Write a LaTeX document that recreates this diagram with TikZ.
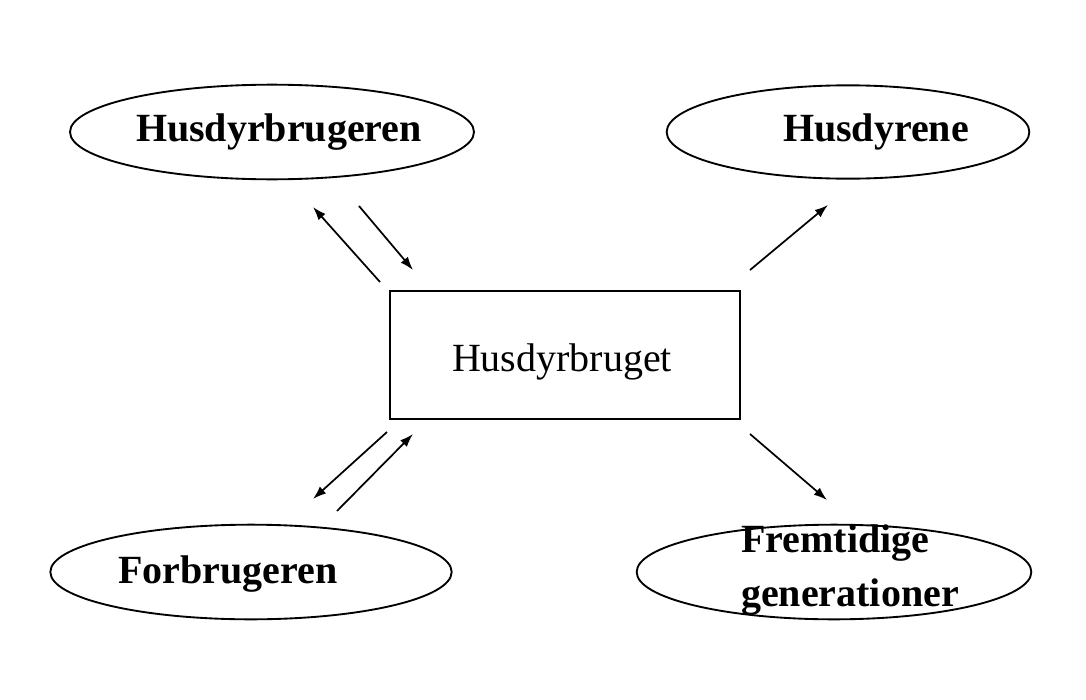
\documentclass[tikz,border=0pt]{standalone}
\usepackage{fontspec}
\setmainfont{Liberation Serif}
\usepackage{tikz}
\usetikzlibrary{shapes.geometric,arrows.meta}

\tikzset{
  oval/.style={draw, ellipse, line width=1.4pt, inner sep=0pt},
  boks/.style={draw, rectangle, line width=1pt, inner sep=0pt, minimum width=262.5pt, minimum height=96pt},
  tekst/.style={font=\fontsize{30}{40}\selectfont\bfseries, align=left},
  pil/.style={-{Latex[length=10pt,width=7pt]}, line width=1.3pt}
}

\begin{document}
\begin{tikzpicture}[x=0.75pt,y=-0.75pt]
        \useasboundingbox (0,0) rectangle (1086,700);

        % ellipses
        \node[oval, minimum width=303pt, minimum height=71pt] (bruger) at (272,132) {};
        \node[oval, minimum width=272pt, minimum height=70pt] (dyr) at (848,132) {};
        \node[oval, minimum width=301pt, minimum height=71pt] (forbr) at (251,572) {};
        \node[oval, minimum width=296pt, minimum height=71pt] (frem) at (834,572) {};

        % center box
        \node[boks] (brug) at (565,355) {};
        \node[font=\fontsize{30}{40}\selectfont] (brugtxt) at (562,362) {Husdyrbruget};

        % labels
        \node[tekst] (brugertxt) at (279,132) {Husdyrbrugeren};
        \node[tekst] (dyrtxt) at (876,132) {Husdyrene};
        \node[tekst] (forbrtxt) at (228,574) {Forbrugeren};
        \node[tekst] (fremtxt) at (850,570) {Fremtidige\\generationer};

        % arrow ends
        \coordinate (A1) at (380,282);
        \coordinate (A2) at (313,207);
        \coordinate (B1) at (359,206);
        \coordinate (B2) at (413,270);
        \coordinate (C1) at (750,270);
        \coordinate (C2) at (828,205);
        \coordinate (D1) at (387,432);
        \coordinate (D2) at (313,499);
        \coordinate (E1) at (337,511);
        \coordinate (E2) at (413,434);
        \coordinate (F1) at (750,434);
        \coordinate (F2) at (827,500);

        % arrows
        \draw[pil] (A1) -- (A2);
        \draw[pil] (B1) -- (B2);
        \draw[pil] (C1) -- (C2);
        \draw[pil] (D1) -- (D2);
        \draw[pil] (E1) -- (E2);
        \draw[pil] (F1) -- (F2);
\end{tikzpicture}
\end{document}
